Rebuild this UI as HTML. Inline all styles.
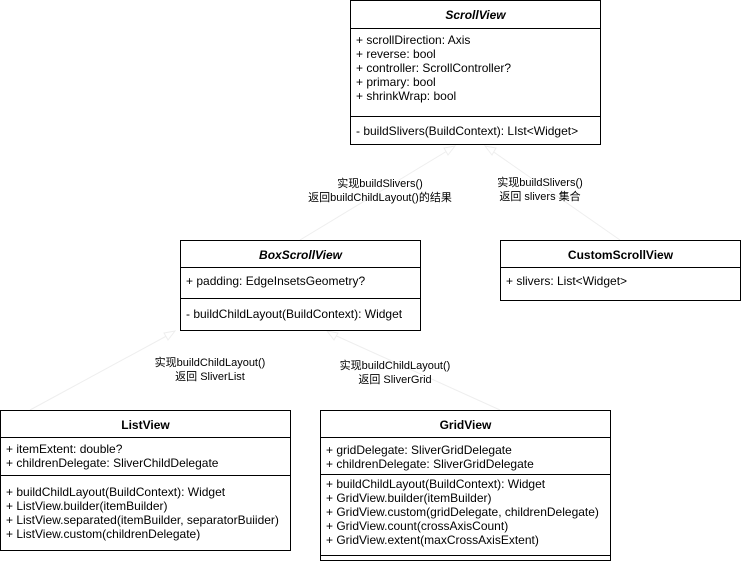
<!DOCTYPE html>
<html><head><meta charset="utf-8"><style>
body{margin:0;width:741px;height:561px;background:#fff;position:relative;overflow:hidden;font-family:"Liberation Sans","Noto Sans CJK SC",sans-serif;font-size:12px;color:#000}
.b{position:absolute;border:1px solid #000;box-sizing:border-box;background:#fff}
.t{position:absolute;left:0;right:0;text-align:center;font-weight:bold}
.l{position:absolute;left:0;right:0;border-top:1px solid #000}
.x{position:absolute;left:5px;line-height:14px;white-space:nowrap}
.lb{position:absolute;text-align:center;font-size:11px;line-height:14px;white-space:nowrap}
svg{position:absolute;left:0;top:0}
</style></head><body>
<svg width="741" height="561">
<g stroke="#eee" fill="#fff" stroke-width="1">
<line x1="300" y1="240" x2="452" y2="148"/><polygon points="455,146 444,148 448,155"/>
<line x1="620" y1="240" x2="488" y2="148"/><polygon points="485,146 492,155 496,148"/>
<line x1="30" y1="410" x2="172" y2="333"/><polygon points="175,331 164,333 168,340"/>
<line x1="500" y1="410" x2="330" y2="333"/><polygon points="327,331 334,340 338,333"/>
</g></svg>
<div class="b" style="left:350px;top:0;width:251px;height:145px">
<div class="t" style="top:7px;font-style:italic">ScrollView</div>
<div class="l" style="top:27px"></div>
<div class="x" style="top:32px">+ scrollDirection: Axis<br>+ reverse: bool<br>+ controller: ScrollController?<br>+ primary: bool<br>+ shrinkWrap: bool</div>
<div class="l" style="top:115px"></div>
<div class="x" style="top:123px">- buildSlivers(BuildContext): LIst&lt;Widget&gt;</div>
</div>
<div class="lb" style="left:300px;top:177px;width:160px">实现buildSlivers()<br>返回buildChildLayout()的结果</div>
<div class="lb" style="left:480px;top:176px;width:120px">实现buildSlivers()<br>返回 slivers 集合</div>
<div class="b" style="left:180px;top:240px;width:241px;height:91px">
<div class="t" style="top:7px;font-style:italic">BoxScrollView</div>
<div class="l" style="top:26px"></div>
<div class="x" style="top:33px">+ padding: EdgeInsetsGeometry?</div>
<div class="l" style="top:57px"></div>
<div class="x" style="top:66px">- buildChildLayout(BuildContext): Widget</div>
</div>
<div class="b" style="left:500px;top:240px;width:241px;height:61px">
<div class="t" style="top:7px">CustomScrollView</div>
<div class="l" style="top:26px"></div>
<div class="x" style="top:33px">+ slivers: List&lt;Widget&gt;</div>
</div>
<div class="lb" style="left:145px;top:356px;width:130px">实现buildChildLayout()<br>返回 SliverList</div>
<div class="lb" style="left:330px;top:359px;width:130px">实现buildChildLayout()<br>返回 SliverGrid</div>
<div class="b" style="left:0;top:410px;width:291px;height:141px">
<div class="t" style="top:7px">ListView</div>
<div class="l" style="top:26px"></div>
<div class="x" style="top:31px">+ itemExtent: double?<br>+ childrenDelegate: SliverChildDelegate</div>
<div class="l" style="top:64px"></div>
<div class="x" style="top:74px">+ buildChildLayout(BuildContext): Widget<br>+ ListView.builder(itemBuilder)<br>+ ListView.separated(itemBuilder, separatorBuiider)<br>+ ListView.custom(childrenDelegate)</div>
</div>
<div class="b" style="left:320px;top:410px;width:291px;height:151px">
<div class="t" style="top:7px">GridView</div>
<div class="l" style="top:26px"></div>
<div class="x" style="top:32px">+ gridDelegate: SliverGridDelegate<br>+ childrenDelegate: SliverGridDelegate</div>
<div class="l" style="top:63px"></div>
<div class="x" style="top:66px">+ buildChildLayout(BuildContext): Widget<br>+ GridView.builder(itemBuilder)<br>+ GridView.custom(gridDelegate, childrenDelegate)<br>+ GridView.count(crossAxisCount)<br>+ GridView.extent(maxCrossAxisExtent)</div>
<div class="l" style="top:144px"></div>
</div>
</body></html>
